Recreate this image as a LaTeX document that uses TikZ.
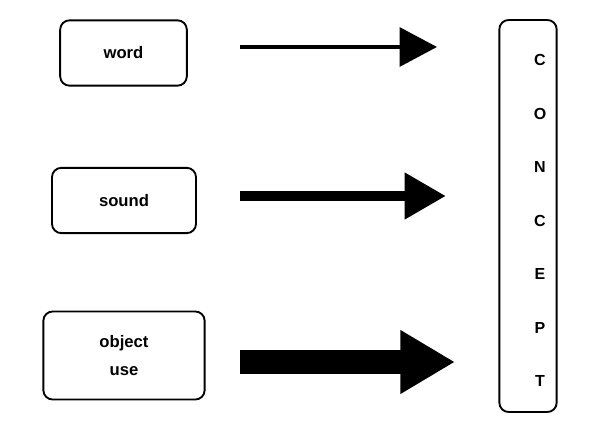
\documentclass[tikz,border=0pt]{standalone}
\usepackage{fontspec}
\setmainfont{Liberation Sans}
\usetikzlibrary{arrows.meta}
\begin{document}
\begin{tikzpicture}[x = 0.75pt, y = -0.75pt,
	box/.style = {draw, line width = 1.4pt, rounded corners = 7pt, inner sep = 0pt, font = \bfseries\fontsize{12.5}{21}\selectfont, align = center},
	letter/.style = {font = \bfseries\fontsize{12}{14}\selectfont}]
		\useasboundingbox (0, 0) rectangle (600, 424);
		\node[box, minimum width = 95pt, minimum height = 49pt] (word) at (123.5, 53) {word};
		\node[box, minimum width = 108pt, minimum height = 49pt] (sound) at (124, 200.5) {sound};
		\node[box, minimum width = 121pt, minimum height = 66pt] (object) at (124, 355.5) {object\\use};
		\node[box, minimum width = 43pt, minimum height = 294pt] (concept) at (528, 216) {};
		\foreach \l [count = \i] in {C, O, N, C, E, P, T}
			\node[letter] (l\i) at (540, 60 + \i * 53.5 - 53.5) {\l};
		\coordinate (w1) at (240, 47);
		\coordinate (w2) at (437, 47);
		\coordinate (s1) at (240, 196);
		\coordinate (s2) at (446, 196);
		\coordinate (o1) at (240, 362);
		\coordinate (o2) at (455, 362);
		\draw[line width = 3pt, -{Triangle[length = 28pt, width = 29pt]}] (w1) -- (w2);
		\draw[line width = 8pt, -{Triangle[length = 31pt, width = 33pt]}] (s1) -- (s2);
		\draw[line width = 18pt, -{Triangle[length = 41pt, width = 45pt]}] (o1) -- (o2);
\end{tikzpicture}
\end{document}
